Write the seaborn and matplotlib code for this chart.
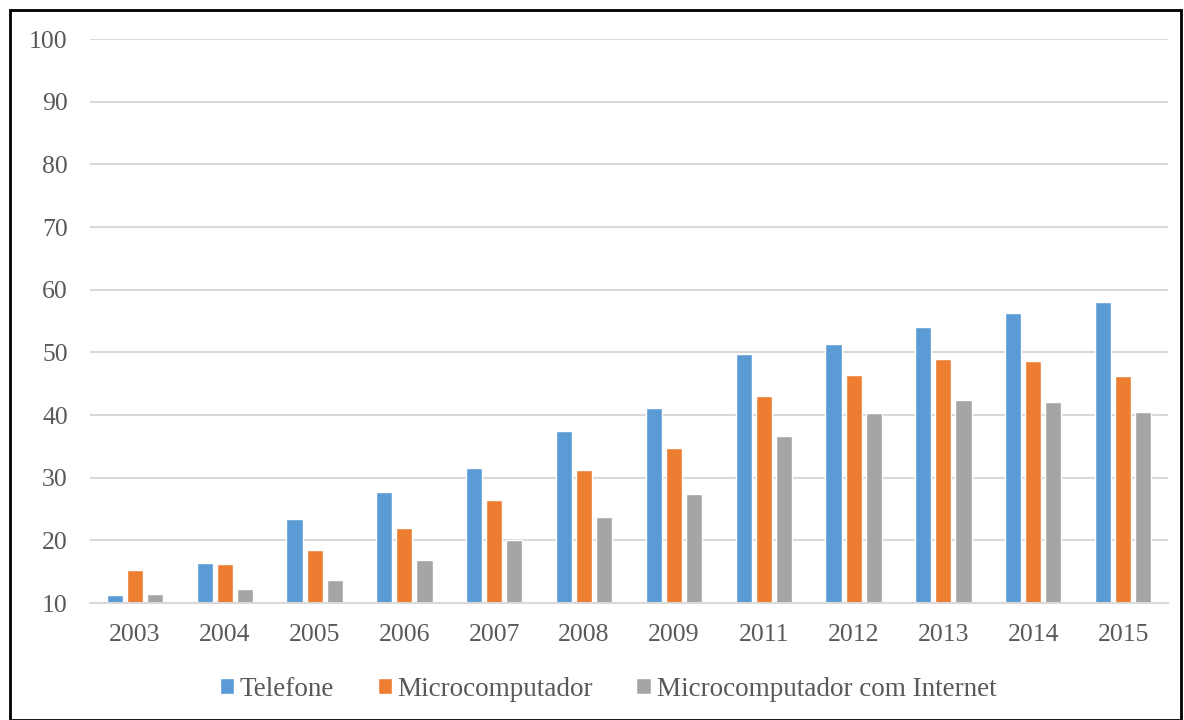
import matplotlib
matplotlib.use("Agg")
import matplotlib.pyplot as plt
import seaborn as sns
import pandas as pd
from matplotlib.patches import Rectangle

years = ["2003", "2004", "2005", "2006", "2007", "2008", "2009", "2011", "2012", "2013", "2014", "2015"]
telefone = [11.2, 16.4, 23.4, 27.7, 31.6, 37.5, 41.1, 49.7, 51.4, 54.0, 56.3, 58.1]
micro = [15.2, 16.2, 18.4, 22.0, 26.5, 31.2, 34.7, 43.0, 46.4, 48.9, 48.6, 46.2]
micro_internet = [11.4, 12.2, 13.6, 16.8, 20.1, 23.8, 27.4, 36.6, 40.3, 42.4, 42.1, 40.5]
series_names = ["Telefone", "Microcomputador", "Microcomputador com Internet"]
colors = ["#5B9BD5", "#ED7D31", "#A5A5A5"]
yticks = [10, 20, 30, 40, 50, 60, 70, 80, 90, 100]

rows = []
for name, vals in zip(series_names, [telefone, micro, micro_internet]):
    for y, v in zip(years, vals):
        rows.append({"Ano": y, "Valor": v, "Serie": name})
df = pd.DataFrame(rows)

sns.set_theme(style="white")
plt.rcParams["font.family"] = ["Liberation Serif", "DejaVu Serif"]

fig = plt.figure(figsize=(11.84, 7.2), dpi=100)
ax = fig.add_axes([90/1184, 1 - 603/720, (1168-90)/1184, (603-39)/720])

sns.barplot(data=df, x="Ano", y="Valor", hue="Serie", order=years,
            hue_order=series_names, palette=colors, width=0.67, gap=0.2,
            saturation=1, ax=ax)

ax.set_ylim(10, 100)
ax.set_xlim(-0.5, 11.5)
ax.set_yticks(yticks)
ax.yaxis.grid(True, color="#d9d9d9", linewidth=1.5)
ax.set_axisbelow(True)
for s in ["top", "right", "left"]:
    ax.spines[s].set_visible(False)
ax.spines["bottom"].set_color("#d9d9d9")
ax.spines["bottom"].set_linewidth(1.5)
ax.set_xlabel("")
ax.set_ylabel("")
ax.tick_params(axis="both", length=0, labelsize=18.5, colors="#595959")
ax.tick_params(axis="x", pad=15)
ax.tick_params(axis="y", pad=16)

leg = ax.legend(loc="center", bbox_to_anchor=(608/1184, 1 - 689/720),
                bbox_transform=fig.transFigure, ncol=3, frameon=False,
                fontsize=19.5, handlelength=0.52, handleheight=0.52,
                handletextpad=0.22, columnspacing=1.6)
for t in leg.get_texts():
    t.set_color("#595959")

fig.patches.append(Rectangle((10/1184, 0), 1171/1184, 1 - 10/720,
                             transform=fig.transFigure, fill=False,
                             edgecolor="black", linewidth=2))

fig.savefig("out.png", dpi=100)
